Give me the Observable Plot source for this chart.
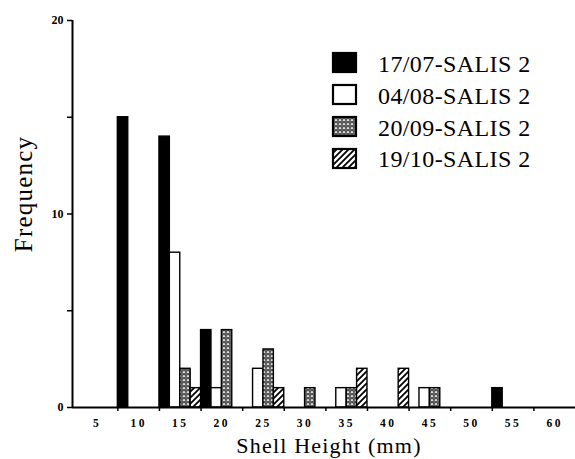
<!DOCTYPE html>
<html>
<head>
<meta charset="utf-8">
<script src="https://cdn.jsdelivr.net/npm/d3@7"></script>
<script src="https://cdn.jsdelivr.net/npm/@observablehq/plot@0.6"></script>
<style>
  html, body { margin: 0; padding: 0; background: #fff; }
  #wrap { position: relative; width: 575px; height: 459px; }
  #wrap > svg { position: absolute; left: 0; top: 0; }
</style>
</head>
<body>
<div id="wrap"></div>
<script>
// Shell height classes (mm, class centres) and frequency per sampling date
const bins = [5, 10, 15, 20, 25, 30, 35, 40, 45, 50, 55, 60];
const seriesNames = ["17/07-SALIS 2", "04/08-SALIS 2", "20/09-SALIS 2", "19/10-SALIS 2"];
const s1707 = [0, 15, 14, 4, 0, 0, 0, 0, 0, 0, 1, 0];
const s0408 = [0, 0, 8, 1, 2, 0, 1, 0, 1, 0, 0, 0];
const s2009 = [0, 0, 2, 4, 3, 1, 1, 0, 1, 0, 0, 0];
const s1910 = [0, 0, 1, 0, 1, 0, 2, 2, 0, 0, 0, 0];
const yTicks = [0, 5, 10, 15, 20];
const fills = ["black", "white", "url(#dots)", "url(#hatch)"];

// Each class is split into four side-by-side slots, one per date
const classWidth = 5;
const slot = classWidth / seriesNames.length;
const rows = [];
[s1707, s0408, s2009, s1910].forEach((vals, k) => {
  vals.forEach((v, i) => {
    if (v > 0) rows.push({
      series: seriesNames[k],
      value: v,
      x1: bins[i] - classWidth / 2 + k * slot,
      x2: bins[i] - classWidth / 2 + (k + 1) * slot
    });
  });
});
const boundaries = bins.slice(1).map(b => b - classWidth / 2);
const xMin = 2.05, xMax = 62.5;

const chart = Plot.plot({
  width: 575,
  height: 459,
  marginTop: 20,
  marginLeft: 72,
  marginRight: 0,
  marginBottom: 52,
  style: { fontFamily: "'Liberation Serif', serif", background: "transparent", color: "black" },
  x: { domain: [xMin, xMax] },
  y: { domain: [0, 20] },
  color: { type: "ordinal", domain: seriesNames, range: fills },
  marks: [
    Plot.rectY(rows, { x1: "x1", x2: "x2", y: "value", fill: "series", stroke: "black", strokeWidth: 1.4 }),
    Plot.ruleY([0], { x1: xMin, x2: xMax, strokeWidth: 2 }),
    Plot.ruleX([xMin], { y1: 0, y2: 20, strokeWidth: 2 }),
    Plot.axisY({ ticks: yTicks, tickFormat: d => (d % 10 === 0 ? String(d) : ""), tickSize: 5, tickPadding: 4,
                 fontSize: 12, fontWeight: "bold", strokeWidth: 1.5, label: null }),
    Plot.axisX({ ticks: boundaries, tickFormat: () => "", tickSize: 4, strokeWidth: 1.5, label: null }),
    Plot.axisX({ ticks: bins, tickSize: 0, tickPadding: 11, fontSize: 11, fontWeight: "bold", label: null }),
    Plot.text(["Frequency"], { text: d => d, frameAnchor: "left", textAnchor: "middle", lineAnchor: "middle",
                               rotate: -90, dx: -49, dy: -20, fontSize: 25 }),
    Plot.text(["Shell Height (mm)"], { text: d => d, frameAnchor: "bottom", textAnchor: "middle", lineAnchor: "middle",
                                       dx: 5, dy: 38, fontSize: 22 })
  ]
});

const wrap = document.getElementById("wrap");
wrap.appendChild(chart);
const svgSel = d3.select(chart);
svgSel.selectAll('g[aria-label="y-axis tick label"]')
  .attr("font-size", 12).attr("font-weight", "bold");
svgSel.selectAll('g[aria-label="x-axis tick label"]')
  .attr("font-size", 11.5).attr("font-weight", "bold");
svgSel.selectAll('g[aria-label="x-axis tick label"] text').style("letter-spacing", "2.5px");
svgSel.selectAll('g[aria-label="text"] text').style("letter-spacing", "1.2px");

// Overlay holding the fill patterns and the legend
const overlay = d3.select(wrap).append("svg")
  .attr("width", 575).attr("height", 459)
  .style("pointer-events", "none");
const defs = overlay.append("defs");
const dots = defs.append("pattern").attr("id", "dots")
  .attr("width", 4).attr("height", 4).attr("patternUnits", "userSpaceOnUse");
dots.append("rect").attr("width", 4).attr("height", 4).attr("fill", "white");
dots.append("circle").attr("cx", 2).attr("cy", 2).attr("r", 1.3).attr("fill", "none")
  .attr("stroke", "black").attr("stroke-width", 1.1);
const hatch = defs.append("pattern").attr("id", "hatch")
  .attr("width", 6).attr("height", 6).attr("patternUnits", "userSpaceOnUse");
hatch.append("rect").attr("width", 6).attr("height", 6).attr("fill", "white");
hatch.append("path").attr("d", "M-1.5,1.5 l3,-3 M0,6 l6,-6 M4.5,7.5 l3,-3")
  .attr("stroke", "black").attr("stroke-width", 1.8);

const legend = overlay.append("g").attr("font-family", "'Liberation Serif', serif");
seriesNames.forEach((name, i) => {
  legend.append("rect")
    .attr("x", 333).attr("y", 53 + i * 32).attr("width", 23).attr("height", 19)
    .attr("fill", fills[i]).attr("stroke", "black").attr("stroke-width", 2.2);
  legend.append("text")
    .attr("x", 378).attr("y", 72 + i * 31.8)
    .attr("font-size", 24).attr("letter-spacing", "0.4px")
    .text(name);
});
</script>
</body>
</html>
